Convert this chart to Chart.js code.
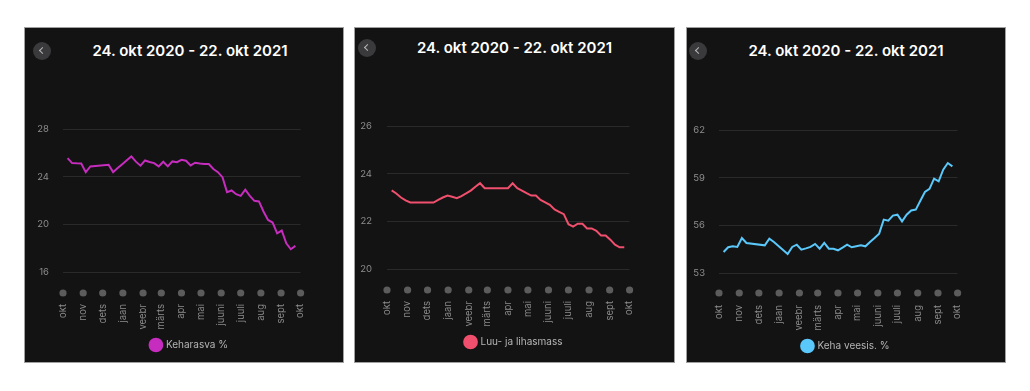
<!DOCTYPE html>
<html lang="et">
<head>
<meta charset="UTF-8">
<title>Keha koostis</title>
<script src="https://cdn.jsdelivr.net/npm/chart.js"></script>
<style>
    body {
        margin: 0;
        background: #fff;
        width: 1030px;
        height: 391px;
        position: relative;
        overflow: hidden;
        font-family: Inter, "Noto Sans", sans-serif;
    }
    .panel {
        position: absolute;
        top: 28px;
        height: 334px;
        background: #131313;
        outline: 1px solid #a0a0a0;
    }
    .panel canvas { position: absolute; left: 0; top: 0; }
    .title {
        position: absolute;
        left: 0;
        right: 0;
        color: #fff;
        font-weight: 600;
        font-size: 15px;
        line-height: 20px;
        text-align: center;
    }
    .back {
        position: absolute;
        width: 18px;
        height: 18px;
        border-radius: 50%;
        background: #3a3a3c;
    }
    .back::after {
        content: "";
        position: absolute;
        left: 7px;
        top: 6px;
        width: 4px;
        height: 4px;
        border-left: 1.5px solid #b8b8b8;
        border-bottom: 1.5px solid #b8b8b8;
        transform: rotate(45deg);
    }
</style>
</head>
<body>
    <div class="panel" style="left:25px; width:318px;">
        <div class="back" style="left:8px; top:14px;"></div>
        <div class="title" style="top:13px; left:12px;">24. okt 2020 - 22. okt 2021</div>
        <canvas id="fatChart" width="319" height="334"></canvas>
    </div>
    <div class="panel" style="left:355px; width:319px;">
        <div class="back" style="left:3px; top:11px;"></div>
        <div class="title" style="top:10px;">24. okt 2020 - 22. okt 2021</div>
        <canvas id="muscleChart" width="318" height="334"></canvas>
    </div>
    <div class="panel" style="left:687px; width:318px;">
        <div class="back" style="left:2px; top:14px;"></div>
        <div class="title" style="top:13px;">24. okt 2020 - 22. okt 2021</div>
        <canvas id="waterChart" width="314" height="334"></canvas>
    </div>

<script>
    // month starts, counted in days from 1 Oct 2020
    const monthDays = [0, 31, 61, 92, 123, 151, 182, 212, 243, 273, 304, 335, 365];
    const monthLabels = ['okt', 'nov', 'dets', 'jaan', 'veebr', 'märts', 'apr', 'mai', 'juuni', 'juuli', 'aug', 'sept', 'okt'];

    // weighing days (weekly, gap in Nov)
    const measureDays = [7, 14, 21, 28, 35, 42,
        70, 77, 84, 91, 98, 105, 112, 119, 126, 133, 140, 147, 154, 161, 168, 175,
        182, 189, 196, 203, 210, 217, 224, 231, 238, 245, 252, 259, 266, 273, 280,
        287, 294, 301, 308, 315, 322, 329, 336, 343, 350, 357];

    const fatPct = [25.56, 25.14, 25.12, 25.11, 24.38, 24.86,
        25.0, 24.38, 24.72, 25.05, 25.38, 25.70, 25.26, 24.92, 25.36, 25.23, 25.14, 24.86, 25.25, 24.86, 25.28, 25.22,
        25.42, 25.34, 24.94, 25.17, 25.10, 25.06, 25.06, 24.64, 24.38, 23.96, 22.70, 22.84, 22.53, 22.39, 22.90,
        22.39, 21.97, 21.92, 21.08, 20.37, 20.15, 19.25, 19.48, 18.41, 17.91, 18.19];

    const boneMuscle = [23.30, 23.17, 23.00, 22.88, 22.79, 22.79,
        22.79, 22.90, 23.00, 23.08, 23.03, 22.97, 23.06, 23.17, 23.29, 23.45, 23.60, 23.39, 23.39, 23.39, 23.39, 23.39,
        23.39, 23.60, 23.39, 23.29, 23.18, 23.08, 23.08, 22.90, 22.80, 22.69, 22.50, 22.40, 22.30, 21.88, 21.78,
        21.90, 21.90, 21.70, 21.70, 21.60, 21.41, 21.41, 21.23, 21.02, 20.91, 20.91];

    const waterPct = [54.32, 54.62, 54.68, 54.64, 55.20, 54.89,
        54.74, 55.16, 54.95, 54.70, 54.45, 54.20, 54.64, 54.78, 54.47, 54.55, 54.64, 54.83, 54.53, 54.89, 54.53, 54.53,
        54.43, 54.60, 54.78, 54.62, 54.68, 54.74, 54.68, 54.95, 55.20, 55.48, 56.36, 56.29, 56.61, 56.67, 56.25,
        56.67, 56.94, 56.99, 57.55, 58.10, 58.29, 58.94, 58.77, 59.50, 59.92, 59.71];

    Chart.defaults.font.family = 'Inter, "Noto Sans", sans-serif';

    // grey dot under every month tick
    const monthDots = {
        id: 'monthDots',
        afterDraw(chart, args, opts) {
            const xs = chart.scales.x;
            const ctx = chart.ctx;
            ctx.save();
            ctx.fillStyle = '#5c5c5c';
            xs.ticks.forEach(t => {
                ctx.beginPath();
                ctx.arc(xs.getPixelForValue(t.value), chart.chartArea.bottom + opts.offset, 3.6, 0, Math.PI * 2);
                ctx.fill();
            });
            ctx.restore();
        }
    };

    function drawPanel(id, values, color, label, yMin, yMax, yStep, pad) {
        new Chart(document.getElementById(id), {
            type: 'line',
            data: {
                datasets: [{
                    label: label,
                    data: measureDays.map((d, i) => ({ x: d, y: values[i] })),
                    borderColor: color,
                    backgroundColor: color,
                    borderWidth: 2,
                    pointRadius: 0,
                    tension: 0
                }]
            },
            options: {
                responsive: false,
                animation: false,
                layout: { padding: { left: pad.left, right: 0, top: pad.top, bottom: pad.bottom } },
                plugins: {
                    legend: {
                        position: 'bottom',
                        labels: {
                            usePointStyle: true,
                            pointStyle: 'circle',
                            boxWidth: 10,
                            boxHeight: 9,
                            padding: 10,
                            color: '#b4b4b4',
                            font: { size: 10 }
                        }
                    },
                    tooltip: { enabled: false },
                    monthDots: { offset: pad.dot }
                },
                scales: {
                    x: {
                        type: 'linear',
                        min: 0,
                        max: 365,
                        grid: { display: false, drawTicks: false },
                        border: { display: false },
                        afterBuildTicks: s => { s.ticks = monthDays.map(v => ({ value: v })); },
                        afterFit: s => { s.height = 58; },
                        ticks: {
                            autoSkip: false,
                            minRotation: 90,
                            maxRotation: 90,
                            padding: 32,
                            color: '#8d8d8d',
                            font: { size: 9.5 },
                            callback: v => monthLabels[monthDays.indexOf(v)]
                        }
                    },
                    y: {
                        min: yMin,
                        max: yMax,
                        afterFit: s => { s.width = pad.axis; },
                        grid: { color: '#2a2a2a', drawTicks: false },
                        border: { display: false },
                        ticks: { stepSize: yStep, padding: pad.tick, color: '#8d8d8d', font: { size: 9.5 } }
                    },
                    // empty right gutter, keeps the legend where the app puts it
                    gutter: {
                        position: 'right',
                        grid: { display: false },
                        border: { display: false },
                        ticks: { display: false },
                        afterFit: s => { s.width = pad.gutter; }
                    }
                }
            },
            plugins: [monthDots]
        });
    }

    drawPanel('fatChart', fatPct, '#c62cbe', 'Keharasva %', 16, 28, 4,
        { left: 10, axis: 28, tick: 14, gutter: 12, top: 101, bottom: 2, dot: 21 });
    drawPanel('muscleChart', boneMuscle, '#f0506d', 'Luu- ja lihasmass', 20, 26, 2,
        { left: 0, axis: 27, tick: 15, gutter: 18, top: 98, bottom: 5, dot: 21 });
    drawPanel('waterChart', waterPct, '#5ac8fa', 'Keha veesis. %', 53, 62, 3,
        { left: 4, axis: 28, tick: 14, gutter: 13, top: 102, bottom: 1, dot: 20 });
</script>
</body>
</html>
